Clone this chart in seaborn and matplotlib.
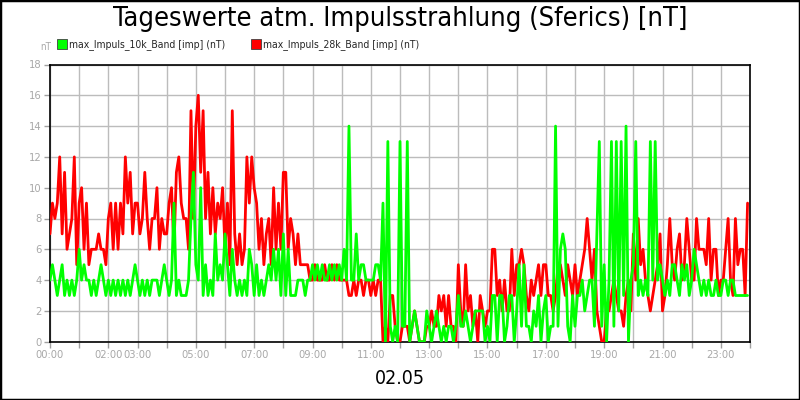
import numpy as np
import pandas as pd
import matplotlib
matplotlib.use("Agg")
import matplotlib.pyplot as plt
from matplotlib.lines import Line2D
from matplotlib.patches import Rectangle
import seaborn as sns

# 5-minute values, 12 per hour (rows = hours 00..23)
red_values = [
    7, 9, 8, 9, 12, 7, 11, 6, 7, 8, 12, 5,
    9, 10, 6, 9, 5, 6, 6, 6, 7, 6, 6, 5,
    8, 9, 6, 9, 6, 9, 7, 12, 9, 11, 7, 9,
    9, 7, 8, 11, 8, 6, 8, 8, 10, 6, 8, 7,
    7, 9, 10, 6, 11, 12, 9, 8, 8, 6, 15, 8,
    14, 16, 11, 15, 8, 11, 7, 10, 7, 9, 8, 10,
    6, 9, 5, 15, 7, 5, 7, 5, 6, 12, 9, 12,
    10, 9, 6, 8, 5, 7, 8, 5, 10, 6, 9, 6,
    11, 11, 6, 8, 7, 5, 7, 5, 5, 5, 5, 4,
    4, 5, 4, 4, 4, 5, 4, 4, 5, 4, 5, 4,
    4, 4, 4, 3, 3, 4, 3, 4, 4, 3, 4, 4,
    3, 4, 3, 4, 4, 0, 1, 0, 3, 3, 1, 0,
    0, 1, 1, 1, 0, 1, 2, 1, 0, 0, 0, 1,
    1, 2, 1, 1, 3, 2, 3, 1, 3, 1, 1, 0,
    5, 2, 1, 5, 2, 3, 1, 2, 0, 3, 2, 1,
    2, 2, 6, 6, 3, 4, 2, 4, 2, 2, 6, 3,
    5, 5, 6, 5, 3, 2, 4, 3, 4, 5, 3, 5,
    5, 3, 3, 2, 3, 5, 5, 4, 3, 5, 4, 3,
    5, 3, 4, 5, 6, 8, 6, 4, 6, 2, 1, 0,
    0, 2, 2, 3, 4, 3, 2, 2, 1, 3, 4, 2,
    7, 4, 8, 5, 6, 4, 3, 2, 3, 4, 5, 7,
    2, 3, 5, 8, 5, 4, 6, 7, 4, 5, 8, 6,
    4, 4, 8, 6, 6, 6, 5, 8, 4, 6, 6, 3,
    4, 4, 6, 8, 4, 3, 8, 5, 6, 6, 3, 9,
]

green_values = [
    4, 5, 4, 3, 4, 5, 3, 4, 3, 4, 3, 4,
    6, 4, 5, 4, 4, 3, 4, 3, 4, 5, 4, 3,
    4, 3, 4, 3, 4, 3, 4, 3, 4, 3, 4, 5,
    4, 3, 4, 3, 4, 3, 4, 4, 4, 3, 4, 5,
    4, 3, 4, 9, 3, 4, 3, 3, 3, 4, 8, 11,
    5, 4, 10, 3, 5, 3, 4, 3, 7, 4, 5, 4,
    7, 5, 3, 6, 4, 3, 4, 3, 4, 3, 6, 5,
    3, 5, 3, 4, 3, 4, 5, 4, 6, 4, 6, 3,
    7, 3, 6, 3, 3, 3, 4, 4, 4, 3, 4, 4,
    5, 4, 5, 4, 5, 4, 4, 5, 4, 5, 4, 5,
    4, 6, 4, 14, 4, 4, 7, 4, 5, 5, 4, 4,
    4, 4, 5, 5, 4, 9, 0, 13, 1, 0, 1, 0,
    13, 1, 1, 13, 0, 1, 2, 1, 0, 0, 0, 2,
    1, 0, 1, 2, 1, 0, 1, 0, 1, 1, 0, 1,
    3, 1, 1, 2, 1, 0, 1, 2, 2, 2, 2, 0,
    1, 0, 3, 3, 0, 3, 3, 0, 1, 3, 3, 0,
    2, 5, 1, 5, 1, 1, 0, 2, 1, 3, 0, 2,
    3, 0, 1, 1, 14, 1, 6, 7, 6, 1, 0, 3,
    1, 3, 3, 4, 2, 3, 4, 4, 1, 7, 13, 1,
    5, 0, 4, 13, 1, 13, 2, 13, 3, 14, 0, 4,
    5, 13, 3, 4, 3, 4, 3, 13, 4, 13, 4, 5,
    4, 3, 4, 3, 5, 5, 4, 3, 5, 4, 5, 3,
    4, 6, 5, 4, 3, 4, 3, 4, 3, 3, 4, 3,
    3, 4, 4, 3, 4, 4, 3, 3, 3, 3, 3, 3,
]

series_names = ["max_Impuls_10k_Band [imp] (nT)", "max_Impuls_28k_Band [imp] (nT)"]
series_colors = ["#00ff00", "#ff0000"]
tick_hours = list(range(25))
labeled_hours = [0, 2, 3, 5, 7, 9, 11, 13, 15, 17, 19, 21, 23]
y_ticks = [0, 2, 4, 6, 8, 10, 12, 14, 16, 18]
title = "Tageswerte atm. Impulsstrahlung (Sferics) [nT]"
date_label = "02.05"

hours = np.arange(len(red_values)) * 5 / 60.0
df = pd.DataFrame({"hour": hours, "red": red_values, "green": green_values})

sns.set_theme(style="white")
plt.rcParams["font.family"] = ["DejaVu Sans"]
plt.rcParams["font.stretch"] = "condensed"

fig = plt.figure(figsize=(8, 4), dpi=100)
ax = fig.add_axes([50 / 800, 1 - 341.7 / 400, 700 / 800, (341.7 - 64.5) / 400])

sns.lineplot(data=df, x="hour", y="red", ax=ax, color=series_colors[1], lw=2.0, zorder=3)
sns.lineplot(data=df, x="hour", y="green", ax=ax, color=series_colors[0], lw=2.0, zorder=4)

ax.set_xlim(0, 24)
ax.set_ylim(0, 18)
ax.set_xticks(tick_hours)
ax.set_xticklabels([f"{h:02d}:00" if h in labeled_hours else "" for h in tick_hours])
ax.set_yticks(y_ticks)
ax.set_yticklabels([str(v) for v in y_ticks])
ax.grid(True, color="#bcbcbc", lw=1.0)
ax.set_axisbelow(True)
for s in ax.spines.values():
    s.set_color("black")
    s.set_linewidth(1.2)
ax.tick_params(axis="both", which="both", direction="out", length=4, width=1,
               color="#a0a0a0", labelcolor="#a8a8a8", labelsize=8, pad=2,
               left=True, bottom=True)
ax.set_xlabel("")
ax.set_ylabel("")

fig.text(0.5, 0.952, title, ha="center", va="center", fontsize=19.5, color="black")
fig.text(0.5, 0.055, date_label, ha="center", va="center", fontsize=14, color="black")
fig.text(40 / 800, 1 - 47 / 400, "nT", ha="left", va="center", fontsize=7, color="#a8a8a8")

handles = [Line2D([], [], ls="none", marker="s", markersize=6.5, markerfacecolor=c,
                  markeredgecolor="#404040", markeredgewidth=0.6) for c in series_colors]
fig.legend(handles, series_names, loc="center left", bbox_to_anchor=(58 / 800, 1 - 45 / 400),
           ncol=2, frameon=False, fontsize=7.5, handlelength=0.8, handletextpad=0.3,
           columnspacing=2.5, borderpad=0, borderaxespad=0)

fig.patches.append(Rectangle((0, 0), 1, 1, transform=fig.transFigure, fill=False,
                             edgecolor="black", lw=2.5))

fig.savefig("out.png", dpi=100)
